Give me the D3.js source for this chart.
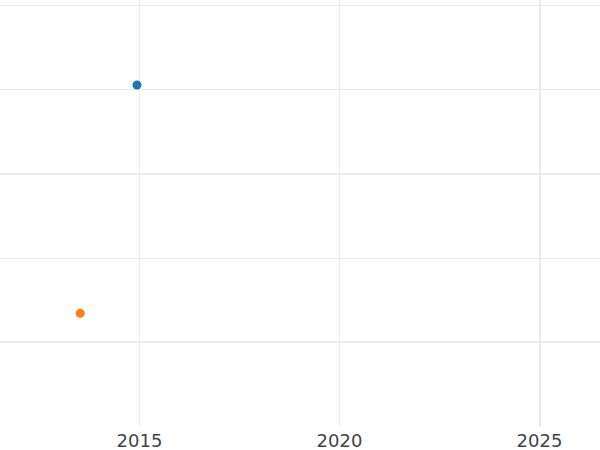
<!DOCTYPE html>
<html><head><meta charset="utf-8">
<script src="https://cdn.jsdelivr.net/npm/d3@7"></script>
<style>html,body{margin:0;padding:0;background:#fff;}svg{display:block;}</style>
</head><body>
<svg id="c" width="600" height="450"></svg>
<script>
// Data
const seriesNames = ["A", "B"];
const xValues = [2014.95, 2013.53];
const yValues = [3.05, 0.34];
const colors = ["#1f77b4", "#ff7f0e"];
const xTicks = [2015, 2020, 2025];
const xTickLabels = ["2015", "2020", "2025"];
const yGrid = [4, 3, 2, 1, 0];
const yGridMajor = [false, false, true, false, true];

const svg = d3.select("#c");
const W = 600, H = 450, plotBottom = 427;
const x = d3.scaleLinear().domain([2011.525, 2026.525]).range([0, W]);
const y = d3.scaleLinear().domain([-1, 4]).range([426.25, 5]);

const grid = svg.append("g");
grid.selectAll("line.h").data(yGrid).join("line")
  .attr("x1", 0).attr("x2", W)
  .attr("y1", (d,i) => yGridMajor[i] ? Math.round(y(d)) : Math.round(y(d)) + 0.5)
  .attr("y2", (d,i) => yGridMajor[i] ? Math.round(y(d)) : Math.round(y(d)) + 0.5)
  .attr("stroke", "#ebebeb")
  .attr("stroke-width", (d,i) => yGridMajor[i] ? 2 : 1);
grid.selectAll("line.v").data(xTicks).join("line")
  .attr("x1", d => d === 2025 ? Math.round(x(d)) + 1 : Math.round(x(d)) + 0.5)
  .attr("x2", d => d === 2025 ? Math.round(x(d)) + 1 : Math.round(x(d)) + 0.5)
  .attr("y1", 0).attr("y2", plotBottom)
  .attr("stroke", "#ebebeb")
  .attr("stroke-width", d => d === 2025 ? 2 : 1);

const xAxis = d3.axisBottom(x).tickValues(xTicks).tickFormat((d,i) => xTickLabels[i]).tickSize(0).tickPadding(0);
const ax = svg.append("g").attr("transform", `translate(0,${plotBottom})`).call(xAxis);
ax.select(".domain").remove();
ax.selectAll("text")
  .attr("dy", null)
  .attr("y", 20.3)
  .attr("font-family", "DejaVu Sans")
  .attr("font-size", 18)
  .attr("fill", "#444444");

svg.append("g").selectAll("circle").data(seriesNames).join("circle")
  .attr("cx", (d,i) => x(xValues[i]))
  .attr("cy", (d,i) => y(yValues[i]))
  .attr("r", 4.5)
  .attr("fill", (d,i) => colors[i]);
</script>
</body></html>
